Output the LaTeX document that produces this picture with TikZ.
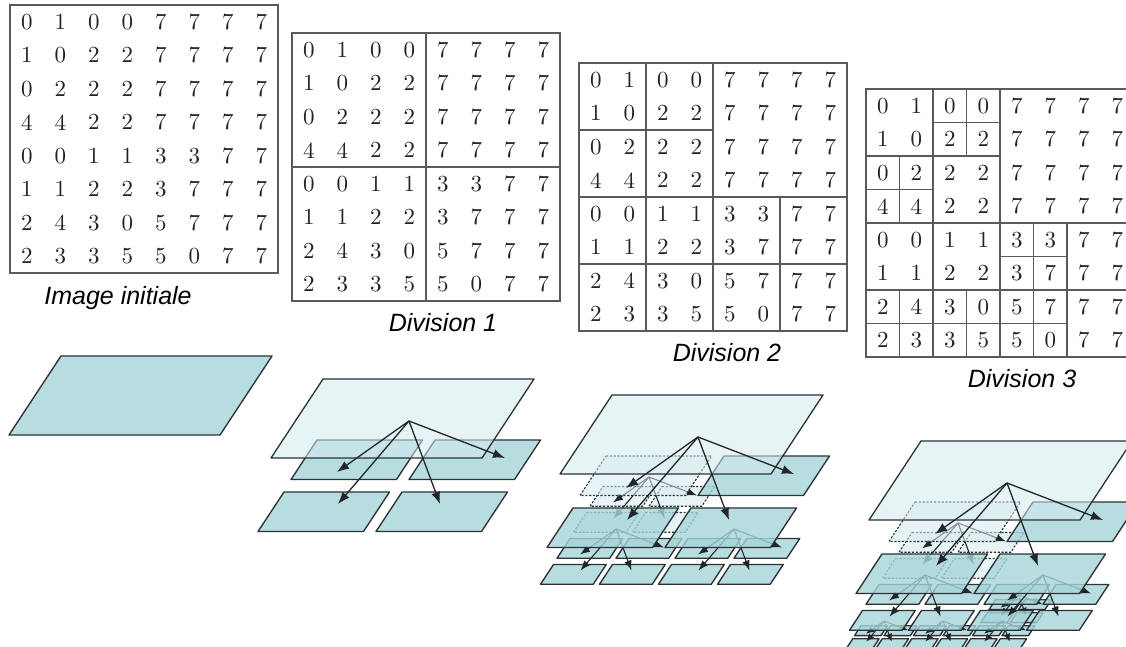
\documentclass[tikz,border=0pt]{standalone}
\usepackage{fontspec}
\newfontfamily\labelfont{Liberation Sans}
\newfontfamily\digitfont{lmroman10-regular}[Extension=.otf]
\usetikzlibrary{calc,arrows.meta}
\definecolor{solidc}{RGB}{166,213,218}
\definecolor{lightc}{RGB}{213,235,238}
\definecolor{edgec}{RGB}{45,50,52}
\definecolor{gridc}{RGB}{90,90,90}
\definecolor{digitc}{RGB}{35,35,35}
\definecolor{arrc}{RGB}{35,38,40}
\tikzset{
 solidplane/.style={draw=edgec, fill=solidc, fill opacity=0.8, line width=1.35pt, line join=round},
 rootplane/.style={draw=edgec, fill=lightc, fill opacity=0.55, line width=1.3pt, line join=round},
 hiddenplane/.style={draw=edgec, dash pattern=on 2.2pt off 1.6pt, fill=lightc, fill opacity=0.55, line width=1.1pt},
 arrA/.style={draw=arrc, line width=1.3pt, -{Latex[length=12pt,width=9pt]}},
 arrB/.style={draw=arrc, line width=1.1pt, -{Latex[length=10pt,width=7.5pt]}},
 arrC/.style={draw=arrc, line width=1pt, -{Latex[length=8pt,width=6.5pt]}},
 gridline/.style={draw=gridc, line width=1.4pt},
 digit/.style={text=digitc, font=\digitfont\fontsize{23}{23}\selectfont, inner sep=0pt},
 caption/.style={font=\labelfont\itshape\fontsize{25}{25}\selectfont, anchor=base, text=black},
}
% child origins, apex and arrow tips of a quadtree node
\newcommand\qkids[2]{%
 \coordinate (#1ul) at ($(#1)+#2*(-6,61)$);
 \coordinate (#1ur) at ($(#1)+#2*(112,61)$);
 \coordinate (#1ll) at ($(#1)+#2*(-39,113)$);
 \coordinate (#1lr) at ($(#1)+#2*(79,113)$);
 \coordinate (#1a) at ($(#1)+#2*(86,42)$);
 \coordinate (#1tul) at ($(#1)+#2*(14,93)$);
 \coordinate (#1tur) at ($(#1)+#2*(182,79)$);
 \coordinate (#1tll) at ($(#1)+#2*(15,125)$);
 \coordinate (#1tlr) at ($(#1)+#2*(117,125)$);
}
\newcommand\qplane[3]{\draw[#3] (#1) -- ++(#2*211,0) -- ++(-#2*52,#2*79) -- ++(-#2*211,0) -- cycle;}
\newcommand\qfan[2]{%
 \draw[#2] (#1a) -- (#1tul);
 \draw[#2] (#1a) -- (#1tur);
 \draw[#2] (#1a) -- (#1tll);
 \draw[#2] (#1a) -- (#1tlr);
}
\newcommand\numgrid[4]{%
 \begin{scope}[shift={(#2,#3)}, x=33.5pt, y=-33.5pt]
  \foreach \row [count=\ri from 0] in {{0,1,0,0,7,7,7,7},{1,0,2,2,7,7,7,7},{0,2,2,2,7,7,7,7},{4,4,2,2,7,7,7,7},{0,0,1,1,3,3,7,7},{1,1,2,2,3,7,7,7},{2,4,3,0,5,7,7,7},{2,3,3,5,5,0,7,7}}{
   \foreach \dg [count=\ci from 0] in \row {\node[digit] (#1-\ri-\ci) at (\ci+0.5,\ri+0.5) {\dg};}}
  \draw[gridline] (0,0) rectangle (8,8) #4;
 \end{scope}}
\begin{document}
\begin{tikzpicture}[x=1pt,y=-1pt]
\useasboundingbox (0,0) rectangle (1126,647);
\clip (0,0) rectangle (1126,647);
\fill[white] (0,0) rectangle (1126,647);
% ---------- grids ----------
\numgrid{ga}{10}{5}{}
\numgrid{gb}{292}{33}{(4,0)--(4,8) (0,4)--(8,4)}
\numgrid{gc}{579}{63}{(4,0)--(4,8) (0,4)--(8,4) (2,0)--(2,8) (0,2)--(4,2) (0,6)--(8,6) (6,4)--(6,8)}
\numgrid{gd}{866}{89}{(4,0)--(4,8) (0,4)--(8,4) (2,0)--(2,8) (0,2)--(4,2) (0,6)--(8,6) (6,4)--(6,8)
  (3,0)--(3,2) (2,1)--(4,1) (1,2)--(1,4) (0,3)--(2,3) (1,6)--(1,8) (3,6)--(3,8) (0,7)--(6,7) (5,4)--(5,8) (4,5)--(6,5)}
\node[caption] (cap0) at (118,304) {Image initiale};
\node[caption] (cap1) at (443,331) {Division 1};
\node[caption] (cap2) at (727,361) {Division 2};
\node[caption] (cap3) at (1022,387) {Division 3};
% ---------- initial image ----------
\coordinate (d0) at (61,356);
\qplane{d0}{1}{solidplane}
% ---------- division 1 ----------
\coordinate (d1) at (323,379);
\qkids{d1}{1}
\qplane{d1ul}{0.5}{solidplane}
\qplane{d1ur}{0.5}{solidplane}
\qplane{d1ll}{0.5}{solidplane}
\qplane{d1lr}{0.5}{solidplane}
\qplane{d1}{1}{rootplane}
\qfan{d1}{arrA}
% ---------- division 2 ----------
\coordinate (d2) at (612,395);
\qkids{d2}{1}
\qkids{d2ul}{0.5}\qkids{d2ll}{0.5}\qkids{d2lr}{0.5}
\foreach \q in {ul,ur,ll,lr}{\qplane{d2ul\q}{0.25}{hiddenplane}}
\foreach \q in {ul,ur,ll,lr}{\qplane{d2ll\q}{0.25}{solidplane}\qplane{d2lr\q}{0.25}{solidplane}}
\qfan{d2ul}{arrB}\qfan{d2ll}{arrB}\qfan{d2lr}{arrB}
\qplane{d2ul}{0.5}{hiddenplane}
\qplane{d2ur}{0.5}{solidplane}
\qplane{d2ll}{0.5}{solidplane}
\qplane{d2lr}{0.5}{solidplane}
\qplane{d2}{1}{rootplane}
\qfan{d2}{arrA}
% ---------- division 3 ----------
\coordinate (d3) at (921,441);
\qkids{d3}{1}
\qkids{d3ul}{0.5}\qkids{d3ll}{0.5}\qkids{d3lr}{0.5}
\qkids{d3llll}{0.25}\qkids{d3lllr}{0.25}\qkids{d3lrul}{0.25}\qkids{d3lrll}{0.25}
\foreach \p in {d3lrul,d3llll,d3lllr,d3lrll}{\foreach \q in {ul,ur,ll,lr}{\qplane{\p\q}{0.125}{solidplane}}}
\qfan{d3lrul}{arrC}\qfan{d3llll}{arrC}\qfan{d3lllr}{arrC}\qfan{d3lrll}{arrC}
\foreach \q in {ul,ur,ll,lr}{\qplane{d3ul\q}{0.25}{hiddenplane}}
\foreach \p in {d3llul,d3llur,d3lrul,d3lrur,d3llll,d3lllr,d3lrll,d3lrlr}{\qplane{\p}{0.25}{solidplane}}
\qfan{d3ul}{arrB}\qfan{d3ll}{arrB}\qfan{d3lr}{arrB}
\qplane{d3ul}{0.5}{hiddenplane}
\qplane{d3ur}{0.5}{solidplane}
\qplane{d3ll}{0.5}{solidplane}
\qplane{d3lr}{0.5}{solidplane}
\qplane{d3}{1}{rootplane}
\qfan{d3}{arrA}
\end{tikzpicture}
\end{document}
